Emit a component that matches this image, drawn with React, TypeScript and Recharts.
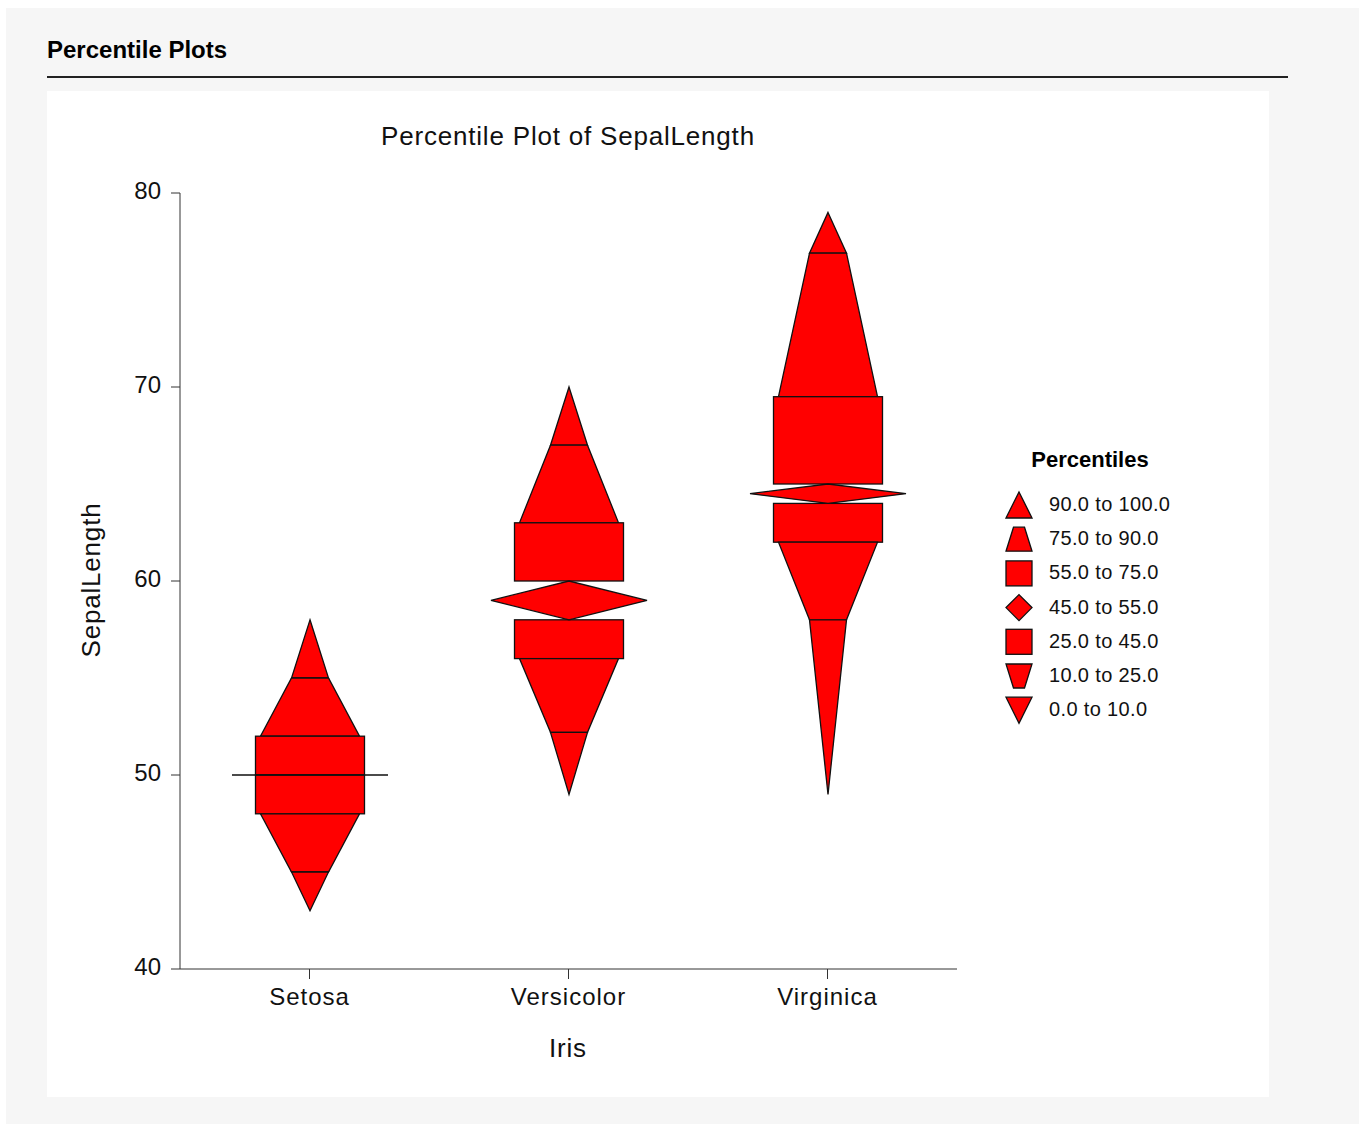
import { ComposedChart, Bar, XAxis, YAxis, Legend } from "recharts";

const FONT = '"Liberation Sans", Arial, Helvetica, sans-serif';

// Percentiles of sepal length (mm) for each species
const SPECIES = ["Setosa", "Versicolor", "Virginica"];
const P0 = [43, 49, 49];
const P10 = [45, 52.2, 58];
const P25 = [48, 56, 62];
const P45 = [50, 58, 64];
const P50 = [50, 59, 64.5];
const P55 = [50, 60, 65];
const P75 = [52, 63, 69.5];
const P90 = [55, 67, 76.9];
const P100 = [58, 70, 79];

const Y_TICKS = [40, 50, 60, 70, 80];
const LEGEND_LABELS = [
  "90.0 to 100.0",
  "75.0 to 90.0",
  "55.0 to 75.0",
  "45.0 to 55.0",
  "25.0 to 45.0",
  "10.0 to 25.0",
  "0.0 to 10.0",
];

const data = SPECIES.map((name, i) => ({
  name,
  p0: P0[i],
  p10: P10[i],
  p25: P25[i],
  p45: P45[i],
  p50: P50[i],
  p55: P55[i],
  p75: P75[i],
  p90: P90[i],
  p100: P100[i],
}));

const FILL = "#ff0000";
const EDGE = "#111";

// half-widths (px) of the pieces of each percentile stack
const NARROW = 18.5;
const TRAP = 49.5;
const BOX = 54.5;
const DIAMOND = 78;

function pts(list: number[][]) {
  return list.map((p) => `${p[0]},${p[1]}`).join(" ");
}

function PercentileShape(props: any) {
  const { x, y, width, height, payload } = props;
  const top = Math.min(y, y + height);
  const bot = Math.max(y, y + height);
  const lo = payload.p0;
  const hi = payload.p100;
  // linear map inside the bar's own range [p0, p100]
  const py = (v: number) => bot - ((v - lo) / (hi - lo)) * (bot - top);
  const cx = x + width / 2;
  const y0 = py(payload.p0);
  const y10 = py(payload.p10);
  const y25 = py(payload.p25);
  const y45 = py(payload.p45);
  const y50 = py(payload.p50);
  const y55 = py(payload.p55);
  const y75 = py(payload.p75);
  const y90 = py(payload.p90);
  const y100 = py(payload.p100);
  const common = { fill: FILL, stroke: EDGE, strokeWidth: 1.3 };
  return (
    <g>
      <polygon {...common} points={pts([[cx, y100], [cx + NARROW, y90], [cx - NARROW, y90]])} />
      <polygon
        {...common}
        points={pts([[cx - NARROW, y90], [cx + NARROW, y90], [cx + TRAP, y75], [cx - TRAP, y75]])}
      />
      <rect {...common} x={cx - BOX} y={y75} width={BOX * 2} height={y55 - y75} />
      <rect {...common} x={cx - BOX} y={y45} width={BOX * 2} height={y25 - y45} />
      <polygon
        {...common}
        points={pts([[cx - DIAMOND, y50], [cx, y55], [cx + DIAMOND, y50], [cx, y45]])}
      />
      <polygon
        {...common}
        points={pts([[cx - TRAP, y25], [cx + TRAP, y25], [cx + NARROW, y10], [cx - NARROW, y10]])}
      />
      <polygon {...common} points={pts([[cx - NARROW, y10], [cx + NARROW, y10], [cx, y0]])} />
    </g>
  );
}

function legendGlyph(i: number, cy: number) {
  const c = { fill: FILL, stroke: EDGE, strokeWidth: 1.3 };
  switch (i) {
    case 0:
      return <polygon {...c} points={pts([[19, cy - 13], [32, cy + 13], [6, cy + 13]])} />;
    case 1:
      return <polygon {...c} points={pts([[13.5, cy - 12], [24.5, cy - 12], [32, cy + 12], [6, cy + 12]])} />;
    case 3:
      return <polygon {...c} points={pts([[19, cy - 13], [32, cy], [19, cy + 13], [6, cy]])} />;
    case 5:
      return <polygon {...c} points={pts([[6, cy - 12], [32, cy - 12], [24.5, cy + 12], [13.5, cy + 12]])} />;
    case 6:
      return <polygon {...c} points={pts([[6, cy - 13], [32, cy - 13], [19, cy + 13]])} />;
    default:
      return <rect {...c} x={6} y={cy - 12.5} width={26} height={25} />;
  }
}

function PercentileLegend() {
  return (
    <svg width={200} height={300} style={{ display: "block" }}>
      <text x={90} y={27} textAnchor="middle" fontFamily={FONT} fontWeight="bold" fontSize={22} fill="#000">
        Percentiles
      </text>
      {LEGEND_LABELS.map((label, i) => {
        const cy = 65 + i * 34.2;
        return (
          <g key={label}>
            {legendGlyph(i, cy)}
            <text x={49} y={cy + 6} fontFamily={FONT} fontSize={20} letterSpacing={0.35} fill="#111">
              {label}
            </text>
          </g>
        );
      })}
    </svg>
  );
}

export default function App() {
  return (
    <div
      style={{
        position: "fixed",
        left: 6,
        top: 8,
        right: 0,
        bottom: 0,
        background: "#f6f6f6",
        fontFamily: FONT,
      }}
    >
      <div
        style={{
          position: "absolute",
          left: 41,
          top: 30,
          fontSize: 24,
          lineHeight: "24px",
          fontWeight: "bold",
          color: "#000",
        }}
      >
        Percentile Plots
      </div>
      <div style={{ position: "absolute", left: 41, top: 68, width: 1241, height: 2, background: "#222" }} />
      <div style={{ position: "absolute", left: 41, top: 83, width: 1222, height: 1006, background: "#fff" }}>
        <ComposedChart
          width={1222}
          height={1006}
          data={data}
          margin={{ top: 102, right: 312, bottom: 0, left: 0 }}
        >
          <XAxis
            dataKey="name"
            height={128}
            tickSize={10}
            tickMargin={9}
            stroke="#333"
            tick={{ fill: "#111", fontSize: 24, fontFamily: FONT, letterSpacing: 1 }}
          />
          <YAxis
            type="number"
            width={133}
            domain={[40, 80]}
            ticks={Y_TICKS}
            allowDataOverflow
            tickSize={9}
            tickMargin={10}
            stroke="#333"
            tick={{ fill: "#111", fontSize: 24, fontFamily: FONT, dy: -3 }}
          />
          <Bar
            dataKey={(d: any) => [d.p0, d.p100]}
            barSize={160}
            shape={PercentileShape}
            isAnimationActive={false}
          />
          <Legend
            layout="horizontal"
            align="center"
            verticalAlign="middle"
            content={() => <PercentileLegend />}
            wrapperStyle={{ left: 953, top: 349, width: 200, height: 300 }}
          />
          <text x={521} y={54} textAnchor="middle" fontFamily={FONT} fontSize={26} letterSpacing={0.8} fill="#111">
            Percentile Plot of SepalLength
          </text>
          <text
            x={53}
            y={489}
            transform="rotate(-90, 53, 489)"
            textAnchor="middle"
            fontFamily={FONT}
            fontSize={26}
            letterSpacing={0.8}
            fill="#111"
          >
            SepalLength
          </text>
          <text x={521} y={966} textAnchor="middle" fontFamily={FONT} fontSize={26} letterSpacing={0.8} fill="#111">
            Iris
          </text>
        </ComposedChart>
      </div>
    </div>
  );
}
